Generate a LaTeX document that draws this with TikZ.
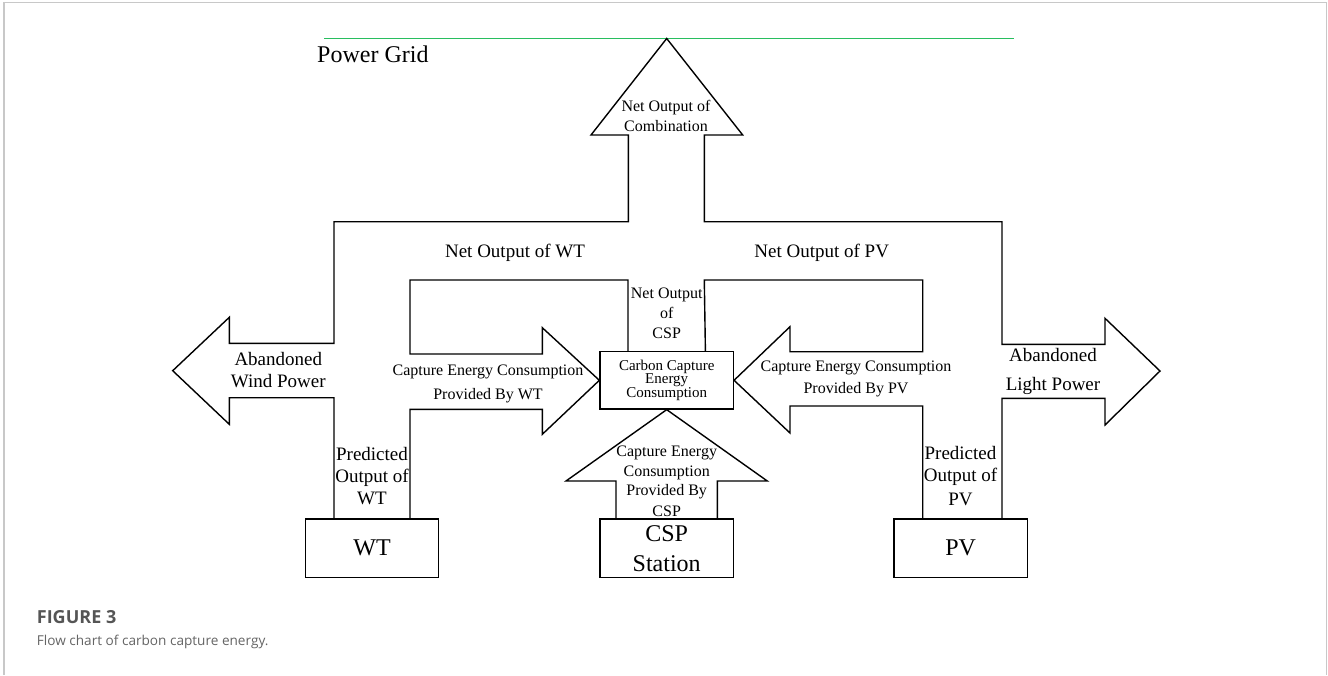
\documentclass[tikz,border=0pt]{standalone}
\usepackage{fontspec}
\setmainfont{Liberation Serif}
\newfontfamily\capfont{Open Sans}
\definecolor{gridgreen}{RGB}{40,190,95}
\definecolor{framegrey}{RGB}{200,200,200}
\definecolor{capgrey}{RGB}{85,85,85}
\definecolor{captxt}{RGB}{100,100,100}
\tikzset{
  outline/.style={line width=1.4pt, line join=miter},
  box/.style={draw, line width=1.4pt, minimum width=133.3pt, inner sep=0pt, align=center},
  lbl/.style={anchor=base, inner sep=0pt, font=\fontsize{#1pt}{#1pt}\selectfont},
}
\begin{document}
\begin{tikzpicture}[x=1pt,y=-1pt]
\useasboundingbox (0,0) rectangle (1328,675);
% frame
\draw[framegrey, line width=1.2pt] (4,675) -- (4,2.5) -- (1326.5,2.5) -- (1326.5,675);

% boxes
\node[box, minimum height=58.3pt, font=\fontsize{24pt}{24pt}\selectfont] (wt) at (372,548.2) {WT};
\node[box, minimum height=58.3pt, font=\fontsize{24pt}{30pt}\selectfont] (csp) at (666.7,548.2) {CSP\\Station};
\node[box, minimum height=58.3pt, font=\fontsize{24pt}{24pt}\selectfont] (pv) at (960.7,548.2) {PV};
\node[box, minimum height=57.3pt, font=\fontsize{15pt}{13.4pt}\selectfont] (cc) at (666.7,380.3) {Carbon Capture\\Energy\\Consumption};

% power grid
\coordinate (gridL) at (324,38.5);
\coordinate (gridR) at (1014,38.5);
\coordinate (gridtop) at (666.7,38.5);
\draw[gridgreen, line width=1.4pt] (gridL) -- (gridR);
\node[lbl=24, anchor=base west] (pg) at (317,62) {Power Grid};

% outer path: WT -> abandoned wind, combination, abandoned light <- PV
\draw[outline] ([xshift=-38pt]wt.north) -- (334,397.7) -- (229.3,397.7) -- (229.3,424.3)
  -- (172.7,370.7) -- (229.3,317.3) -- (229.3,343.3) -- (334,343.3) -- (334,221.7)
  -- (628.3,221.7) -- (628.3,135) -- (591,135) -- (gridtop) -- (742.7,135) -- (704.3,135)
  -- (704.3,221.7) -- (1002,221.7) -- (1002,344.3) -- (1105,344.3) -- (1105,318.3)
  -- (1160,371) -- (1105,425) -- (1105,398.3) -- (1002,398.3) -- ([xshift=41.3pt]pv.north);

% WT inner -> carbon capture
\draw[outline] ([xshift=38pt]wt.north) -- (410,409.3) -- (542.3,409.3) -- (542.3,434.3)
  -- (cc.west) -- (542.3,327.7) -- (542.3,354) -- (410,354) -- (410,280) -- (628,280)
  -- ([xshift=-38.7pt]cc.north);

% carbon capture <- PV inner
\draw[outline] ([xshift=38.7pt]cc.north) -- (704.3,280) -- (922.7,280) -- (922.7,351.7)
  -- (790,351.7) -- (790,326.7) -- (cc.east) -- (790,433) -- (790,406) -- (922.7,406)
  -- ([xshift=-38pt]pv.north);

% CSP arrow
\draw[outline] ([xshift=-50.7pt]csp.north) -- (616,481) -- (566,481) -- (cc.south)
  -- (767.3,481) -- (717.3,481) -- ([xshift=50.7pt]csp.north);

% labels
\node[lbl=16] (comb1) at (666,111) {Net Output of};
\node[lbl=16] (comb2) at (666,131) {Combination};
\node[lbl=19] (nowt) at (515,257) {Net Output of WT};
\node[lbl=19] (nopv) at (821.7,257) {Net Output of PV};
\node[lbl=16] (nocsp1) at (666.7,298) {Net Output};
\node[lbl=16] (nocsp2) at (666.7,318) {of};
\node[lbl=16] (nocsp3) at (666.7,338) {CSP};
\node[lbl=19] (aw1) at (278.3,365) {Abandoned};
\node[lbl=19] (aw2) at (278.3,387.3) {Wind Power};
\node[lbl=19] (al1) at (1053,361.7) {Abandoned};
\node[lbl=19] (al2) at (1053,390.7) {Light Power};
\node[lbl=16] (cwt1) at (488,375) {Capture Energy Consumption};
\node[lbl=16] (cwt2) at (488,399) {Provided By WT};
\node[lbl=16] (cpv1) at (856,371) {Capture Energy Consumption};
\node[lbl=16] (cpv2) at (856,393.3) {Provided By PV};
\node[lbl=19] (pw1) at (372,460) {Predicted};
\node[lbl=19] (pw2) at (372,482.3) {Output of};
\node[lbl=19] (pw3) at (372,504.3) {WT};
\node[lbl=19] (pp1) at (960.5,459) {Predicted};
\node[lbl=19] (pp2) at (960.5,481.7) {Output of};
\node[lbl=19] (pp3) at (960.5,505) {PV};
\node[lbl=16] (cc1) at (666.7,456.7) {Capture Energy};
\node[lbl=16] (cc2) at (666.7,476) {Consumption};
\node[lbl=16] (cc3) at (666.7,495.7) {Provided By};
\node[lbl=16] (cc4) at (666.7,516) {CSP};

% caption
\node[anchor=base west, inner sep=0pt, text=capgrey, font=\capfont\bfseries\fontsize{18pt}{18pt}\selectfont] (fig) at (36.7,623.3) {FIGURE 3};
\node[anchor=base west, inner sep=0pt, text=captxt, font=\capfont\fontsize{13.6pt}{13.6pt}\selectfont] (cap) at (36.7,645) {Flow chart of carbon capture energy.};
\end{tikzpicture}
\end{document}
